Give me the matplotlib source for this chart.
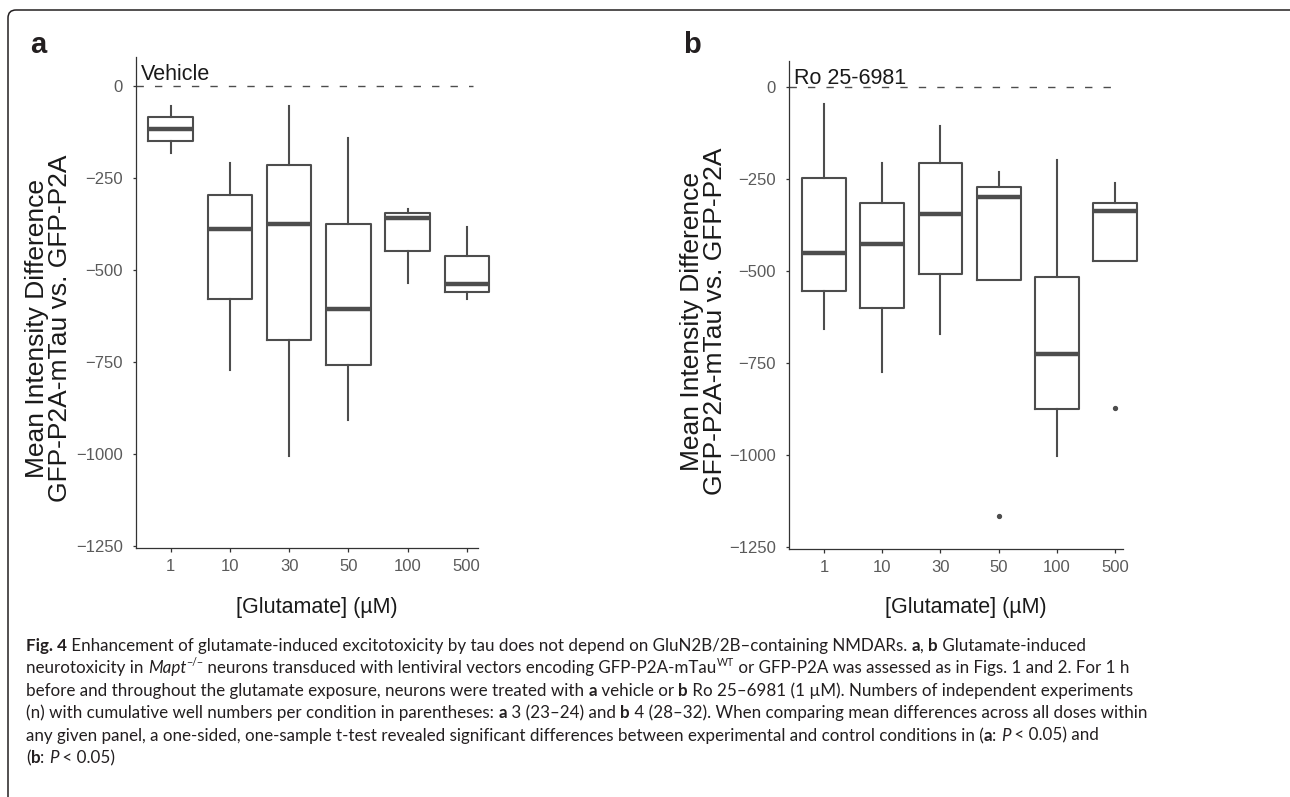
import matplotlib
matplotlib.use("Agg")
import matplotlib.pyplot as plt
from matplotlib.patches import FancyBboxPatch
from matplotlib.transforms import IdentityTransform

# doses on the x axis
doses = ['1', '10', '30', '50', '100', '500']

# panel a: vehicle (box stats)
veh_whislo = [-181, -773, -1007, -909, -537, -580]
veh_q1 = [-150, -580, -691, -758, -449, -560]
veh_med = [-117, -388, -374, -607, -358, -539]
veh_q3 = [-85, -297, -214, -375, -345, -462]
veh_whishi = [-54, -208, -54, -141, -334, -384]
veh_fliers = [[], [], [], [], [], []]

# panel b: Ro 25-6981
ro_whislo = [-658, -775, -672, -525, -1002, -473]
ro_q1 = [-554, -601, -508, -525, -874, -473]
ro_med = [-451, -428, -346, -299, -726, -337]
ro_q3 = [-249, -317, -206, -273, -516, -315]
ro_whishi = [-48, -207, -107, -231, -199, -262]
ro_fliers = [[], [], [], [-1165], [], [-871]]

yticks = [0, -250, -500, -750, -1000, -1250]

W, H = 1290, 797
fig = plt.figure(figsize=(W / 100, H / 100), dpi=100)
plt.rcParams['font.family'] = ['Liberation Sans', 'DejaVu Sans']

box_col = '#4d4d4d'
tick_col = '#5a5a5a'


def make_stats(lo, q1, med, q3, hi, fl):
    out = []
    for i in range(len(med)):
        out.append(dict(whislo=lo[i], q1=q1[i], med=med[i], q3=q3[i],
                        whishi=hi[i], fliers=fl[i]))
    return out


def panel(px_box, stats, xlim, ylim, title, lab_x, lab_y):
    l, t, r, b = px_box
    ax = fig.add_axes([l / W, (H - b) / H, (r - l) / W, (b - t) / H])
    ax.axhline(0, xmax=0.985, color=box_col, lw=1.0, dashes=(5.3, 8))
    parts = ax.bxp(stats, positions=range(1, 7), widths=0.75, showcaps=False,
                   patch_artist=False,
                   boxprops=dict(color=box_col, lw=1.5),
                   whiskerprops=dict(color=box_col, lw=1.5),
                   medianprops=dict(color=box_col, lw=3.2, solid_capstyle='butt'),
                   flierprops=dict(marker='o', markersize=2.8, markerfacecolor=box_col,
                                   markeredgecolor=box_col))
    # last box pokes out past the end of the x axis, as in the original
    for key in parts:
        for art in parts[key]:
            art.set_clip_on(False)
    ax.set_xlim(*xlim)
    ax.set_ylim(*ylim)
    ax.set_xticks(range(1, 7))
    ax.set_xticklabels(doses)
    ax.set_yticks(yticks)
    ax.set_yticklabels([('\u2212' + str(-v)) if v < 0 else str(v) for v in yticks])
    for s in ['top', 'right']:
        ax.spines[s].set_visible(False)
    for s in ['left', 'bottom']:
        ax.spines[s].set_color('#333333')
        ax.spines[s].set_linewidth(0.9)
    ax.tick_params(axis='y', length=2.5, width=0.9, color='#333333', pad=7,
                   labelsize=12, labelcolor=tick_col)
    ax.tick_params(axis='x', length=3, width=0.9, color='#333333', pad=5,
                   labelsize=12, labelcolor=tick_col)
    ax.text(0.015, 0.953, title, transform=ax.transAxes, fontsize=15.5,
            color='#1a1a1a', ha='left', va='baseline')
    ax.set_ylabel('Mean Intensity Difference\nGFP-P2A-mTau vs. GFP-P2A',
                  fontsize=19, color='#1a1a1a', linespacing=0.95)
    ax.yaxis.set_label_coords(lab_x, lab_y)
    ax.set_xlabel('[Glutamate] (\u00b5M)', fontsize=15.5, color='#1a1a1a')
    ax.xaxis.label.set_verticalalignment('baseline')
    ax.xaxis.set_label_coords(0.53, -0.131)
    return ax


ax1 = panel((136, 57, 478, 548.3),
            make_stats(veh_whislo, veh_q1, veh_med, veh_q3, veh_whishi, veh_fliers),
            (0.414, 6.19), (-1257.5, 79), 'Vehicle', -0.186, 0.448)
ax2 = panel((789, 60.7, 1123.3, 549.3),
            make_stats(ro_whislo, ro_q1, ro_med, ro_q3, ro_whishi, ro_fliers),
            (0.399, 6.14), (-1256, 70.6), 'Ro 25-6981', -0.184, 0.467)

# panel letters
fig.text(30 / W, (H - 53) / H, 'a', fontsize=21, fontweight='bold', color='#231f20',
         va='baseline', ha='left')
fig.text(683 / W, (H - 53) / H, 'b', fontsize=21, fontweight='bold', color='#231f20',
         va='baseline', ha='left')

# rounded frame around the figure (right and bottom run off the image)
frame = FancyBboxPatch((8, -30), 1300, H - 10 + 30,
                       boxstyle='round,pad=0,rounding_size=8',
                       transform=IdentityTransform(), fill=False,
                       edgecolor='#231f20', lw=1.1)
fig.patches.append(frame)

# caption
cap_font = ['Lato', 'DejaVu Sans']
caption = [
    [('Fig. 4', 'b'), (' Enhancement of glutamate-induced excitotoxicity by tau does not depend on GluN2B/2B\u2013containing NMDARs. ', 'r'),
     ('a', 'b'), (', ', 'r'), ('b', 'b'), (' Glutamate-induced', 'r')],
    [('neurotoxicity in ', 'r'), ('Mapt', 'i'), ('\u2212/\u2212', 'sup'),
     (' neurons transduced with lentiviral vectors encoding GFP-P2A-mTau', 'r'), ('WT', 'sup'),
     (' or GFP-P2A was assessed as in Figs. 1 and 2. For 1 h', 'r')],
    [('before and throughout the glutamate exposure, neurons were treated with ', 'r'), ('a', 'b'),
     (' vehicle or ', 'r'), ('b', 'b'), (' Ro 25\u20136981 (1 \u00b5M). Numbers of independent experiments', 'r')],
    [('(n) with cumulative well numbers per condition in parentheses: ', 'r'), ('a', 'b'),
     (' 3 (23\u201324) and ', 'r'), ('b', 'b'),
     (' 4 (28\u201332). When comparing mean differences across all doses within', 'r')],
    [('any given panel, a one-sided, one-sample t-test revealed significant differences between experimental and control conditions in (', 'r'),
     ('a', 'b'), (': ', 'r'), ('P', 'i'), (' < 0.05) and', 'r')],
    [('(', 'r'), ('b', 'b'), (': ', 'r'), ('P', 'i'), (' < 0.05)', 'r')],
]

renderer = fig.canvas.get_renderer()


def style_kw(style, size):
    kw = dict(family=cap_font, fontsize=size, color='#231f20')
    if style == 'b':
        kw['fontweight'] = 'bold'
    elif style == 'i':
        kw['fontstyle'] = 'italic'
    elif style == 'sup':
        kw['fontsize'] = size * 0.62
    return kw


def seg_width(s, kw):
    t = fig.text(0, 0, 'x' + s + 'x', **kw)
    w1 = t.get_window_extent(renderer).width
    t.remove()
    t = fig.text(0, 0, 'xx', **kw)
    w0 = t.get_window_extent(renderer).width
    t.remove()
    return w1 - w0


# fit caption font size to the width of the first line
base = 12
w_line1 = sum(seg_width(s, style_kw(st, base)) for s, st in caption[0])
cap_size = base * 1061 / w_line1

for i, parts in enumerate(caption):
    x = 26
    y = 651 + 22.4 * i
    for s, st in parts:
        kw = style_kw(st, cap_size)
        dy = cap_size * 0.45 * 100 / 72 if st == 'sup' else 0
        fig.text(x / W, (H - y + dy) / H, s, va='baseline', ha='left', **kw)
        x += seg_width(s, kw)

fig.savefig('out.png', dpi=100)
